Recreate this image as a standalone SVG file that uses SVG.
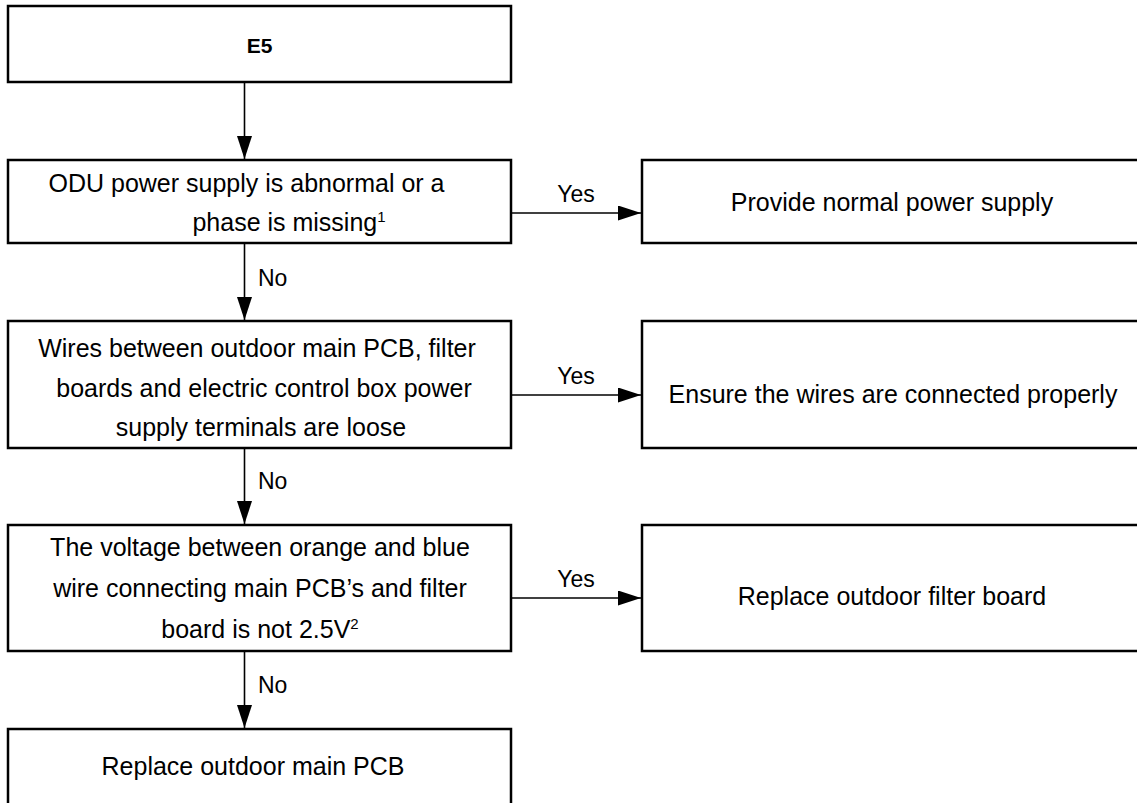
<svg xmlns="http://www.w3.org/2000/svg" width="1137" height="803" viewBox="0 0 1137 803">
<style>
.box{fill:#fff;stroke:#000;stroke-width:2.5}
.t{font-family:"Liberation Sans",Arial,sans-serif;font-size:25px;fill:#000;text-anchor:middle}
.b{font-weight:bold;font-size:21px}
.lbl{font-family:"Liberation Sans",Arial,sans-serif;font-size:23px;fill:#000}
.c{stroke:#000;stroke-width:1.6;fill:none}
</style>
<defs>
<marker id="ah" markerUnits="userSpaceOnUse" markerWidth="24" markerHeight="16" refX="23" refY="7.5" orient="auto">
<path d="M0,0 L23,7.5 L0,15 Z" fill="#000"/>
</marker>
</defs>
<rect width="1137" height="803" fill="#fff"/>
<g id="connectors">
<line class="c" x1="244.5" y1="82" x2="244.5" y2="159" marker-end="url(#ah)"/>
<line class="c" x1="244.5" y1="243" x2="244.5" y2="320" marker-end="url(#ah)"/>
<line class="c" x1="244.5" y1="448" x2="244.5" y2="524" marker-end="url(#ah)"/>
<line class="c" x1="244.5" y1="651" x2="244.5" y2="728" marker-end="url(#ah)"/>
<line class="c" x1="511" y1="213" x2="641" y2="213" marker-end="url(#ah)"/>
<line class="c" x1="511" y1="395" x2="641" y2="395" marker-end="url(#ah)"/>
<line class="c" x1="511" y1="598" x2="641" y2="598" marker-end="url(#ah)"/>
<text class="lbl" x="258" y="286">No</text>
<text class="lbl" x="258" y="489">No</text>
<text class="lbl" x="258" y="693">No</text>
<text class="lbl" x="576" y="202" text-anchor="middle">Yes</text>
<text class="lbl" x="576" y="384" text-anchor="middle">Yes</text>
<text class="lbl" x="576" y="587" text-anchor="middle">Yes</text>
</g>
<g id="n-e5">
<rect class="box" x="8" y="6" width="503" height="76"/>
<text class="t b" x="259.5" y="53">E5</text>
</g>
<g id="n-odu">
<rect class="box" x="8" y="160" width="503" height="83"/>
<text class="t" x="246.5" y="192">ODU power supply is abnormal or a</text>
<text class="t" x="289" y="231">phase is missing<tspan font-size="15" dy="-9">1</tspan></text>
</g>
<g id="n-wires">
<rect class="box" x="8" y="321" width="503" height="127"/>
<text class="t" x="257" y="357">Wires between outdoor main PCB, filter</text>
<text class="t" x="264" y="397">boards and electric control box power</text>
<text class="t" x="261" y="436">supply terminals are loose</text>
</g>
<g id="n-voltage">
<rect class="box" x="8" y="525" width="503" height="126"/>
<text class="t" x="260" y="556">The voltage between orange and blue</text>
<text class="t" x="260" y="597">wire connecting main PCB’s and filter</text>
<text class="t" x="260" y="638">board is not 2.5V<tspan font-size="15" dy="-9">2</tspan></text>
</g>
<g id="n-mainpcb">
<rect class="box" x="8" y="729" width="503" height="100"/>
<text class="t" x="253" y="775">Replace outdoor main PCB</text>
</g>
<g id="n-power">
<rect class="box" x="642" y="160" width="520" height="83"/>
<text class="t" x="892" y="211">Provide normal power supply</text>
</g>
<g id="n-ensure">
<rect class="box" x="642" y="321" width="520" height="127"/>
<text class="t" x="893" y="403">Ensure the wires are connected properly</text>
</g>
<g id="n-filter">
<rect class="box" x="642" y="525" width="520" height="126"/>
<text class="t" x="892" y="605">Replace outdoor filter board</text>
</g>
</svg>
